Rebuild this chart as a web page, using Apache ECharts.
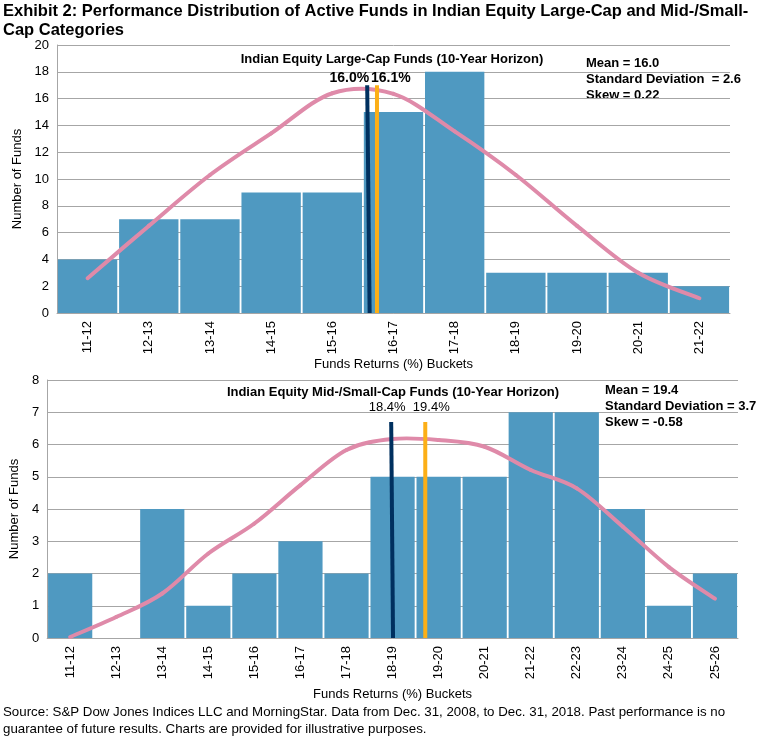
<!DOCTYPE html>
<html><head><meta charset="utf-8">
<script src="https://cdn.jsdelivr.net/npm/echarts@6/dist/echarts.min.js"></script>
<style>html,body{margin:0;padding:0;background:#fff}#c{width:761px;height:741px}</style>
</head><body><div id="c"></div>
<script>
// ---- Data ----
const largeCats = ['11-12','12-13','13-14','14-15','15-16','16-17','17-18','18-19','19-20','20-21','21-22'];
const largeCounts = [4,7,7,9,9,15,18,3,3,3,2];
const largeCurve = [2.6,6.5,10.3,13.4,16.4,16.35,13.55,10.3,6.5,3.0,1.1];
const largeNavyLine = [[16.11,0],[16.07,17]];
const largeOrangeLine = [[16.23,0],[16.23,17]];
const largeNavyLabel = '16.0%';
const largeOrangeLabel = '16.1%';
const largeStats = ['Mean = 16.0','Standard Deviation  = 2.6','Skew = 0.22'];

const midCats = ['11-12','12-13','13-14','14-15','15-16','16-17','17-18','18-19','19-20','20-21','21-22','22-23','23-24','24-25','25-26'];
const midCounts = [2,0,4,1,2,3,2,5,5,5,7,7,4,1,2];
const midCurve = [0.03,0.65,1.38,2.62,3.55,4.74,5.83,6.17,6.14,5.93,5.21,4.64,3.45,2.2,1.22];
const midNavyLine = [[18.51,0],[18.47,6.7]];
const midOrangeLine = [[19.21,0],[19.21,6.7]];
const midNavyLabel = '18.4%';
const midOrangeLabel = '19.4%';
const midStats = ['Mean = 19.4','Standard Deviation = 3.7','Skew = -0.58'];

const FONT = '"Liberation Sans", Arial, sans-serif';
const BAR = '#4f99c1', PINK = '#df8aa9', NAVY = '#00305f', ORANGE = '#fcaf17', GRID = '#a6a6a6';

const chart = echarts.init(document.getElementById('c'));

function catAxis(gi, cats, gap){
  return {type:'category', gridIndex:gi, data:cats,
    axisLine:{lineStyle:{color:GRID}}, axisTick:{show:false},
    axisLabel:{rotate:90, fontSize:13, color:'#000', fontFamily:FONT, margin:8},
    name:'Funds Returns (%) Buckets', nameLocation:'middle', nameGap:gap,
    nameTextStyle:{fontSize:13, color:'#000', fontFamily:FONT}};
}
function valX(gi, min, max){
  return {type:'value', gridIndex:gi, min:min, max:max, show:false, splitLine:{show:false}};
}
function valY(gi, max, interval, gap){
  return {type:'value', gridIndex:gi, min:0, max:max, interval:interval,
    axisLine:{show:true, lineStyle:{color:GRID}}, axisTick:{show:false},
    splitLine:{lineStyle:{color:GRID}},
    axisLabel:{fontSize:13, color:'#000', fontFamily:FONT, margin:8},
    name:'Number of Funds', nameLocation:'middle', nameGap:gap,
    nameTextStyle:{fontSize:13, color:'#000', fontFamily:FONT}};
}
function vline(xi, yi, data, color, label, lab){
  return {type:'line', xAxisIndex:xi, yAxisIndex:yi, data:[data[0], {value:data[1], label:Object.assign({show:true, formatter:label, fontFamily:FONT, color:'#000'}, lab)}],
    symbol:'circle', symbolSize:0, showSymbol:true, lineStyle:{color:color, width:4}, z:5, silent:true, animation:false};
}
// smoothed curve (Catmull-Rom style, like a spreadsheet "smoothed line")
function curve(xi, yi, values){
  return {type:'custom', xAxisIndex:xi, yAxisIndex:yi, z:4, silent:true,
    data: values.map((v,i)=>[i,v]),
    renderItem: function(params, api){
      if (params.dataIndex !== 0) return null;
      const pts = values.map((v,i)=>api.coord([i,v]));
      const n = pts.length, kids = [];
      for (let i=0;i<n-1;i++){
        const p0 = pts[Math.max(i-1,0)], p1 = pts[i], p2 = pts[i+1], p3 = pts[Math.min(i+2,n-1)];
        kids.push({type:'bezierCurve', shape:{x1:p1[0], y1:p1[1], x2:p2[0], y2:p2[1],
          cpx1:p1[0]+(p2[0]-p0[0])/6, cpy1:p1[1]+(p2[1]-p0[1])/6,
          cpx2:p2[0]-(p3[0]-p1[0])/6, cpy2:p2[1]-(p3[1]-p1[1])/6},
          style:{stroke:PINK, lineWidth:4, fill:null, lineCap:'round'}});
      }
      return {type:'group', children:kids};
    }};
}

const option = {
  animation:false,
  grid:[{left:57, right:31, top:45, bottom:428}, {left:45, right:23, top:380, bottom:103}],
  xAxis:[catAxis(0, largeCats, 40), catAxis(1, midCats, 50), valX(0, 11, 22), valX(1, 11, 26)],
  yAxis:[valY(0, 20, 2, 28), valY(1, 8, 1, 25)],
  series:[
    {type:'bar', xAxisIndex:0, yAxisIndex:0, data:largeCounts, barCategoryGap:'3%', itemStyle:{color:BAR}},
    curve(0, 0, largeCurve),
    vline(2, 0, largeNavyLine, NAVY, largeNavyLabel, {position:'top', align:'right', distance:0, fontSize:14, fontWeight:'bold', offset:[2,0]}),
    vline(2, 0, largeOrangeLine, ORANGE, largeOrangeLabel, {position:'top', align:'left', distance:0, fontSize:14, fontWeight:'bold', offset:[-6,0]}),
    {type:'bar', xAxisIndex:1, yAxisIndex:1, data:midCounts, barCategoryGap:'4%', itemStyle:{color:BAR}},
    curve(1, 1, midCurve),
    vline(3, 1, midNavyLine, NAVY, midNavyLabel, {position:'top', align:'center', distance:8, fontSize:13, offset:[-4,0]}),
    vline(3, 1, midOrangeLine, ORANGE, midOrangeLabel, {position:'top', align:'center', distance:8, fontSize:13, offset:[6,0]})
  ],
  graphic:[
    {type:'text', left:3, top:2, style:{text:'Exhibit 2: Performance Distribution of Active Funds in Indian Equity Large-Cap and Mid-/Small-\nCap Categories', font:'bold 16.5px '+FONT, fill:'#000', lineHeight:19}},
    {type:'text', x:392, y:59, style:{text:'Indian Equity Large-Cap Funds (10-Year Horizon)', font:'bold 13px '+FONT, fill:'#000', textAlign:'center', textVerticalAlign:'middle'}},
    {type:'text', x:586, y:55, style:{text:largeStats.join('\n'), font:'bold 13px '+FONT, fill:'#000', lineHeight:16}},
    {type:'text', x:393, y:392, style:{text:'Indian Equity Mid-/Small-Cap Funds (10-Year Horizon)', font:'bold 13px '+FONT, fill:'#000', textAlign:'center', textVerticalAlign:'middle'}},
    {type:'text', x:605, y:382, style:{text:midStats.join('\n'), font:'bold 13px '+FONT, fill:'#000', lineHeight:16}},
    {type:'text', left:3, top:704, style:{text:'Source: S&P Dow Jones Indices LLC and MorningStar. Data from Dec. 31, 2008, to Dec. 31, 2018. Past performance is no\nguarantee of future results. Charts are provided for illustrative purposes.', font:'13.3px '+FONT, fill:'#000', lineHeight:17}}
  ]
};
chart.setOption(option);
</script></body></html>
